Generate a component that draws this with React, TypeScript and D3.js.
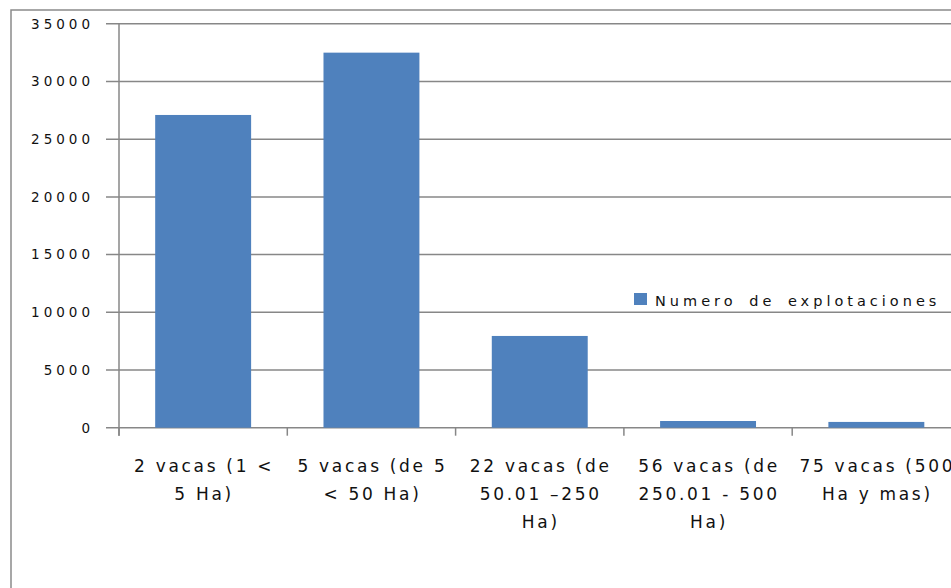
import React from "react";
import * as d3 from "d3";

// Number of dairy farms by herd size / land area bracket
const categories = [
  "2 vacas (1 < 5 Ha)",
  "5 vacas (de 5 < 50 Ha)",
  "22 vacas (de 50.01 –250 Ha)",
  "56 vacas (de 250.01 - 500 Ha)",
  "75 vacas (500 Ha y mas)",
];
const categoryLines = [
  ["2 vacas (1  <", "5 Ha)"],
  ["5 vacas (de 5", "< 50 Ha)"],
  ["22 vacas (de", "50.01 –250", "Ha)"],
  ["56 vacas (de", "250.01 - 500", "Ha)"],
  ["75 vacas (500", "Ha y mas)"],
];
const explotaciones = [27100, 32500, 7950, 580, 500];
const yTicks = [0, 5000, 10000, 15000, 20000, 25000, 30000, 35000];
const seriesName = "Numero de explotaciones";

const W = 951;
const H = 588;
const BAR = "#4F81BD";
const GRID = "#878787";
const FONT = "'DejaVu Sans', Verdana, sans-serif";

export default function App() {
  const axisX = 119;
  const baseY = 427.7;
  const y = d3.scaleLinear().domain([0, 35000]).range([baseY, 23.8]);
  const x = d3
    .scaleBand<string>()
    .domain(categories)
    .range([axisX, axisX + 5 * 168.3])
    .paddingInner(0.43)
    .paddingOuter(0.215);
  const step = x.step();

  return (
    <svg
      width={W}
      height={H}
      style={{ position: "absolute", left: 0, top: 0, background: "#fff" }}
    >
      {/* chart area frame */}
      <rect x={11} y={10} width={W + 20} height={H + 20} fill="#fff" stroke="#8a8a8a" strokeWidth={1.5} />

      {/* horizontal gridlines and y ticks */}
      {yTicks.map((t) => (
        <g key={t}>
          <line x1={106} x2={W + 10} y1={y(t)} y2={y(t)} stroke={GRID} strokeWidth={1.5} />
          <text
            x={94}
            y={y(t)}
            dy="0.36em"
            textAnchor="end"
            fontFamily={FONT}
            fontSize={13.5}
            letterSpacing={4}
            fill="#111"
          >
            {t}
          </text>
        </g>
      ))}

      {/* bars */}
      {categories.map((c, i) => (
        <rect
          key={c}
          x={x(c)}
          y={y(explotaciones[i])}
          width={x.bandwidth()}
          height={baseY - y(explotaciones[i])}
          fill={BAR}
        />
      ))}

      {/* value axis */}
      <line x1={axisX} x2={axisX} y1={y(35000)} y2={baseY + 8} stroke={GRID} strokeWidth={1.5} />

      {/* category ticks */}
      {d3.range(categories.length + 1).map((k) => (
        <line
          key={k}
          x1={axisX + k * step}
          x2={axisX + k * step}
          y1={baseY}
          y2={baseY + 8}
          stroke={GRID}
          strokeWidth={1.5}
        />
      ))}

      {/* category labels */}
      {categories.map((c, i) => (
        <text
          key={c}
          x={(x(c) ?? 0) + x.bandwidth() / 2 + 1}
          y={472}
          textAnchor="middle"
          fontFamily={FONT}
          fontSize={17}
          letterSpacing={2.7}
          fill="#111"
        >
          {categoryLines[i].map((ln, j) => (
            <tspan key={j} x={(x(c) ?? 0) + x.bandwidth() / 2 + 1} dy={j === 0 ? 0 : 28}>
              {ln}
            </tspan>
          ))}
        </text>
      ))}

      {/* legend */}
      <rect x={634} y={293} width={13} height={12} fill={BAR} />
      <text
        x={655}
        y={306}
        fontFamily={FONT}
        fontSize={14.5}
        letterSpacing={4}
        wordSpacing={4}
        fill="#111"
      >
        {seriesName}
      </text>
    </svg>
  );
}
